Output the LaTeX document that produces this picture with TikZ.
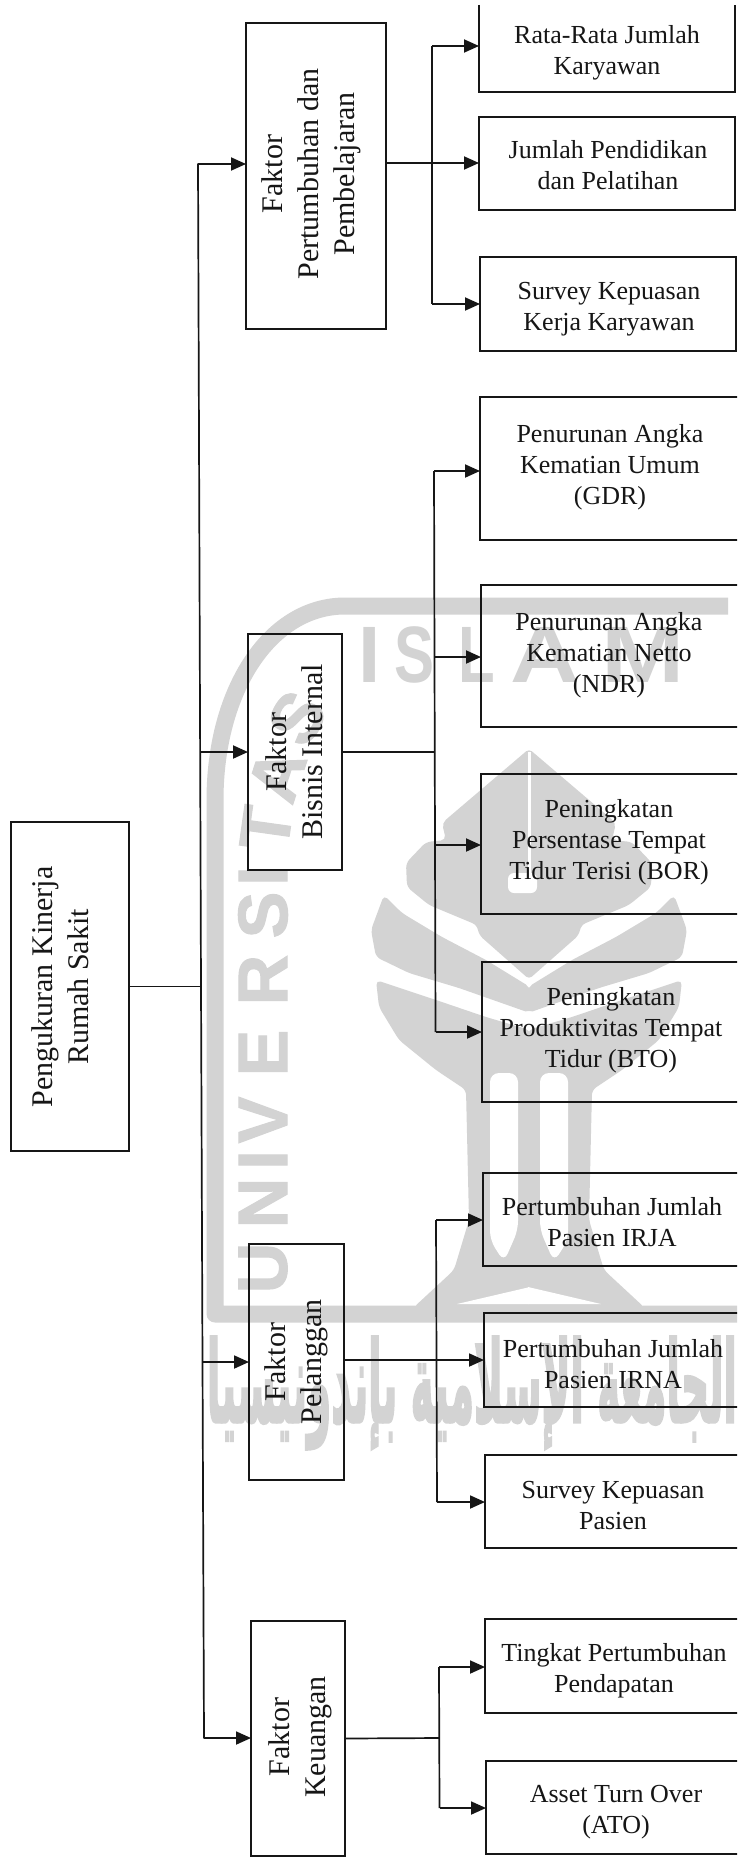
\documentclass[tikz,border=0pt]{standalone}
\usepackage{fontspec}
\usepackage{graphicx}
\setmainfont{Liberation Serif}
\newfontfamily\wmsans{Liberation Sans}
\newfontfamily\wmfat[BoldFeatures={FakeBold=1.5}]{Liberation Sans}
\newfontfamily\arabicfont[Script=Arabic,BoldFeatures={FakeBold=3}]{DejaVu Sans}
\TeXXeTstate=1
\usetikzlibrary{arrows.meta}
\definecolor{wmgray}{RGB}{211,211,211}
\definecolor{inkc}{RGB}{22,22,22}
\tikzset{
  x=1pt,y=-1pt,
  boxn/.style={draw=inkc,line width=1.7pt,inner sep=0pt,outer sep=0pt},
  openbox/.style={inner sep=0pt,outer sep=0pt},
  lineh/.style={draw=inkc,line width=1.7pt},
  arr/.style={draw=inkc,line width=1.9pt,-{Triangle[length=15pt,width=13pt,fill=inkc]}},
  hlabel/.style={text=inkc,align=center,inner sep=0pt,font=\fontsize{26}{31}\selectfont},
  vlabel/.style={text=inkc,align=center,inner sep=0pt,rotate=90,font=\fontsize{30}{36}\selectfont},
  wmfill/.style={fill=wmgray,rounded corners=5pt},
  wmband/.style={draw=wmgray,line width=17pt},
  wmletter/.style={text=wmgray,inner sep=0pt,font=\fontsize{70}{70}\selectfont\wmfat\bfseries},
  wmtop/.style={text=wmgray,inner sep=0pt,font=\fontsize{80}{80}\selectfont\wmsans\bfseries},
  wmarabic/.style={text=wmgray,inner sep=0pt},
}
\newcommand{\boxat}[6][boxn]{%
  \pgfmathsetmacro{\bxw}{#5-#3}\pgfmathsetmacro{\bxh}{#6-#4}%
  \pgfmathsetmacro{\bxc}{(#3+#5)/2}\pgfmathsetmacro{\byc}{(#4+#6)/2}%
  \node[#1,minimum width=\bxw pt,minimum height=\bxh pt] (#2) at (\bxc,\byc) {};}
\newcommand{\wmhalf}{%
  \fill[wmfill] (1,748) -- (-87,823) -- (-83,840) -- (-103,842) -- (-123,863) -- (-122,887) -- (-100,905) -- (-52,925) -- (-50,935) -- (1,980) -- cycle;
  \fill[wmfill] (-145,895) -- (-127,913) -- (-87,937) -- (-43,960) -- (1,987) -- (1,1013) -- (-70,988) -- (-120,973) -- (-153,957) -- (-158,930) -- cycle;
  \fill[wmfill] (-153,980) -- (-93,1000) -- (-43,1017) -- (1,1030) -- (1,1308) -- (-116,1308) -- (-75,1270) -- (-60,1220) -- (-63,1090) -- (-93,1070) -- (-130,1040) -- (-150,1007) -- cycle;
  \fill[white,rounded corners=9pt] (-39,1073) -- (-11,1073) -- (-11,1230) -- (-25,1262) -- (-39,1240) -- cycle;
  \fill[white] (1,1287) -- (-72,1304) -- (1,1304) -- cycle;
}
\begin{document}
\begin{tikzpicture}
\clip (0,0) rectangle (737,1857);
\fill[white] (0,0) rectangle (737,1857);
% watermark
\begin{scope}[shift={(529,0)}]\wmhalf\end{scope}
\begin{scope}[shift={(529,0)},xscale=-1]\wmhalf\end{scope}
\fill[white] (527.5,752) rectangle (530.5,875);
\fill[white,rounded corners=6pt] (508,873) rectangle (537,893);
\draw[wmband,line join=round] (745,1314) -- (215,1314) -- (215,800)
  .. controls (215,690) and (270,606) .. (345,606) -- (728,606);
\node[wmletter,rotate=90] (wU) at (263,1268) {U};
\node[wmletter,rotate=90] (wN) at (263,1203) {N};
\node[wmletter,rotate=90] (wI) at (263,1160) {I};
\node[wmletter,rotate=90] (wV) at (263,1120) {V};
\node[wmletter,rotate=90] (wE) at (263,1053) {E};
\node[wmletter,rotate=90] (wR) at (263,980) {R};
\node[wmletter,rotate=90] (wS) at (263,915) {S};
\node[wmletter,rotate=90] (wI2) at (263,876) {I};
\node[wmletter,rotate=82] (wT) at (266,828) {T};
\node[wmletter,rotate=72] (wA) at (277,775) {A};
\node[wmletter,rotate=58] (wS2) at (297,718) {S};
\node[wmtop] (wI3) at (370,655) {I};
\node[wmtop,xscale=.75] (wS3) at (415,655) {S};
\node[wmtop,xscale=.75] (wL) at (477,655) {L};
\node[wmtop,xscale=1.2] (wA2) at (545,655) {A};
\node[wmtop,xscale=1.25] (wM) at (643,655) {M};
\node[wmarabic] (wAr) at (472,1393) {\resizebox{530pt}{85pt}{\arabicfont\bfseries\beginR الجامعة الإسلامية بإندونيسيا\endR}};
% boxes
\boxat{main}{11}{822}{129}{1151}
\boxat{f1}{246}{23}{386}{329}
\boxat{f2}{248}{634}{342}{870}
\boxat{f3}{249}{1244}{344}{1480}
\boxat{f4}{251}{1621}{345}{1856}
\boxat[openbox]{r1}{479}{5}{735}{92}
\draw[lineh] (r1.north west) -- (r1.south west) -- (r1.south east) -- (r1.north east);
\boxat{r2}{479}{117}{735}{210}
\boxat{r3}{480}{257}{736}{351}
\boxat{g1}{480}{397}{750}{540}
\boxat{g2}{481}{585}{750}{727}
\boxat{g3}{481}{774}{750}{914}
\boxat{g4}{482}{962}{750}{1102}
\boxat{p1}{483}{1173}{750}{1266}
\boxat{p2}{484}{1313}{750}{1407}
\boxat{p3}{485}{1455}{750}{1548}
\boxat{k1}{485}{1619}{750}{1713}
\boxat{k2}{486}{1761}{750}{1854}
% labels
\node[vlabel] (tmain) at (60,987) {Pengukuran Kinerja\\Rumah Sakit};
\node[vlabel] (tf1) at (311,174) {Faktor\\Pertumbuhan dan\\Pembelajaran};
\node[vlabel] (tf2) at (294,752) {Faktor\\Bisnis Internal};
\node[vlabel] (tf3) at (296,1362) {Faktor\\Pelanggan};
\node[vlabel] (tf4) at (300,1737) {Faktor\\Keuangan};
\node[hlabel] (tr1) at (607,53) {Rata-Rata Jumlah\\Karyawan};
\node[hlabel] (tr2) at (608,165) {Jumlah Pendidikan\\dan Pelatihan};
\node[hlabel] (tr3) at (609,309) {Survey Kepuasan\\Kerja Karyawan};
\node[hlabel] (tg1) at (610,467) {Penurunan Angka\\Kematian Umum\\(GDR)};
\node[hlabel] (tg2) at (609,655) {Penurunan Angka\\Kematian Netto\\(NDR)};
\node[hlabel] (tg3) at (609,842) {Peningkatan\\Persentase Tempat\\Tidur Terisi (BOR)};
\node[hlabel] (tg4) at (611,1030) {Peningkatan\\Produktivitas Tempat\\Tidur (BTO)};
\node[hlabel] (tp1) at (612,1222) {Pertumbuhan Jumlah\\Pasien IRJA};
\node[hlabel] (tp2) at (613,1364) {Pertumbuhan Jumlah\\Pasien IRNA};
\node[hlabel] (tp3) at (613,1505) {Survey Kepuasan\\Pasien};
\node[hlabel] (tk1) at (614,1671) {Tingkat Pertumbuhan\\Pendapatan};
\node[hlabel] (tk2) at (616,1812) {Asset Turn Over\\(ATO)};
% main bus
\coordinate (b0a) at (198,164);
\coordinate (b0b) at (200,752);
\coordinate (b0c) at (201,986.5);
\coordinate (b0d) at (202,1362);
\coordinate (b0e) at (204,1738);
\draw[lineh,line cap=round] (b0a) -- (b0c) -- (b0e);
\draw[lineh] (main.east) -- (b0c);
\draw[arr] (b0a) -- (b0a -| f1.west);
\draw[arr] (b0b) -- (b0b -| f2.west);
\draw[arr] (b0d) -- (b0d -| f3.west);
\draw[arr] (b0e) -- (b0e -| f4.west);
% bus f1
\coordinate (b1a) at (432,46);
\coordinate (b1b) at (432,163);
\coordinate (b1c) at (432,304);
\draw[lineh] (b1a) -- (b1c);
\draw[arr] (b1a) -- (b1a -| r1.west);
\draw[arr] (b1b -| f1.east) -- (b1b -| r2.west);
\draw[arr] (b1c) -- (b1c -| r3.west);
% bus f2
\coordinate (b2a) at (434,471);
\coordinate (b2b) at (434.5,657);
\coordinate (b2x) at (434.7,752);
\coordinate (b2c) at (435,845);
\coordinate (b2d) at (435.5,1032);
\draw[lineh] (b2a) -- (b2d);
\draw[lineh] (f2.east) -- (b2x);
\draw[arr] (b2a) -- (b2a -| g1.west);
\draw[arr] (b2b) -- (b2b -| g2.west);
\draw[arr] (b2c) -- (b2c -| g3.west);
\draw[arr] (b2d) -- (b2d -| g4.west);
% bus f3
\coordinate (b3a) at (436,1220);
\coordinate (b3b) at (436.5,1360);
\coordinate (b3c) at (437,1502);
\draw[lineh] (b3a) -- (b3c);
\draw[arr] (b3a) -- (b3a -| p1.west);
\draw[arr] (b3b -| f3.east) -- (b3b -| p2.west);
\draw[arr] (b3c) -- (b3c -| p3.west);
% bus f4
\coordinate (b4a) at (439,1667);
\coordinate (b4b) at (439,1738);
\coordinate (b4c) at (439.5,1808);
\draw[lineh] (b4a) -- (b4c);
\draw[lineh] (f4.east) -- (b4b);
\draw[arr] (b4a) -- (b4a -| k1.west);
\draw[arr] (b4c) -- (b4c -| k2.west);
\end{tikzpicture}
\end{document}
